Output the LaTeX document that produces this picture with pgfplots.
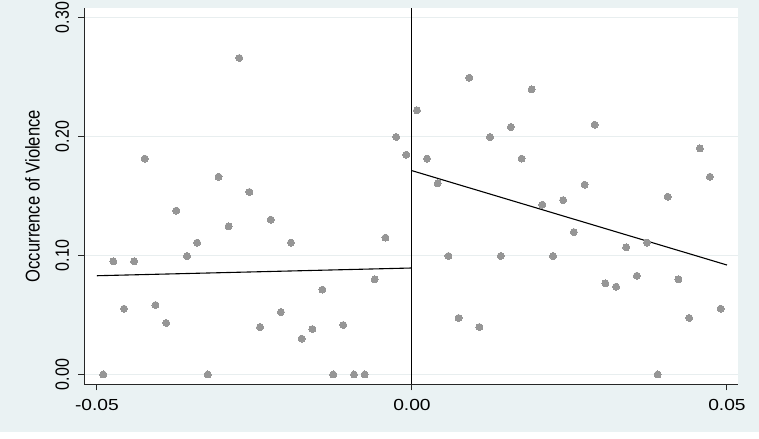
\documentclass[border=0pt]{standalone}
\usepackage{fontspec}
\setmainfont{Liberation Sans}
\usepackage{graphicx}
\usepackage{pgfplots}
\pgfplotsset{compat=1.18}
\usepackage{pgfplotstable}
\definecolor{bg}{RGB}{234,242,243}
\definecolor{gridc}{RGB}{232,238,239}
\definecolor{mk}{RGB}{150,150,150}
\newcommand{\wx}[1]{\scalebox{1.2}[1]{#1}}
\newcommand{\wy}[1]{\scalebox{1}[1.2]{#1}}
\pgfplotstableread{
x y
-0.0490 0.000
-0.0474 0.0951
-0.0457 0.0553
-0.0441 0.0951
-0.0424 0.1814
-0.0407 0.0584
-0.0390 0.0433
-0.0374 0.1377
-0.0357 0.0996
-0.0341 0.1108
-0.0324 0.000
-0.0307 0.1662
-0.0291 0.1245
-0.0274 0.2660
-0.0258 0.1534
-0.0241 0.0399
-0.0224 0.1301
-0.0208 0.0525
-0.0192 0.1108
-0.0175 0.0301
-0.0158 0.0382
-0.0142 0.0713
-0.0125 0.000
-0.0109 0.0416
-0.0092 0.000
-0.0075 0.000
-0.0059 0.0800
-0.0042 0.1150
-0.0025 0.1996
-0.0009 0.1847
}\leftdata
\pgfplotstableread{
x y
0.0008 0.2220
0.0024 0.1814
0.0041 0.1607
0.0058 0.0996
0.0074 0.0475
0.0091 0.2494
0.0107 0.0399
0.0124 0.1996
0.0141 0.0996
0.0157 0.2080
0.0174 0.1814
0.0190 0.2396
0.0207 0.1427
0.0224 0.0996
0.0240 0.1466
0.0257 0.1197
0.0274 0.1595
0.0290 0.2099
0.0307 0.0766
0.0324 0.0738
0.0340 0.1069
0.0357 0.0830
0.0373 0.1108
0.0390 0.000
0.0406 0.1494
0.0423 0.0800
0.0440 0.0475
0.0457 0.1900
0.0473 0.1662
0.0490 0.0553
}\rightdata
\begin{document}
\begin{tikzpicture}
\useasboundingbox (-84.3bp,-54.7bp) rectangle (674.7bp,384.3bp);
\fill[bg] (-84.3bp,-47.7bp) rectangle (674.7bp,384.3bp);
\begin{axis}[
  at={(0,0)}, anchor=south west,
  scale only axis, width=653.7bp, height=376.3bp,
  xmin=-0.052, xmax=0.05175, ymin=-0.00824, ymax=0.308,
  scaled x ticks=false, scaled y ticks=false,
  axis background/.style={fill=white},
  axis x line*=bottom, axis y line*=left,
  axis line style={black!85, line width=1bp, -},
  tick align=outside, major tick length=6bp,
  tick style={black!85, line width=1bp},
  xtick={-0.05,0,0.05}, xticklabels={\wx{-0.05},\wx{0.00},\wx{0.05}},
  ytick={0,0.1,0.2,0.3}, yticklabels={\wy{0.00},\wy{0.10},\wy{0.20},\wy{0.30}},
  ymajorgrids, grid style={gridc, line width=1.2bp},
  tick label style={font=\fontsize{16bp}{19bp}\selectfont},
  xticklabel style={anchor=base}, xticklabel shift=20.4bp,
  yticklabel style={rotate=90, anchor=base}, yticklabel shift=9.3bp,
  ylabel={\wy{Occurrence of Violence}},
  every axis y label/.style={at={(axis description cs:-0.0685,0.5)}, anchor=base, rotate=90, font=\fontsize{16.6bp}{20bp}\selectfont},
  clip=false,
]
\addplot[only marks, mark=*, mark size=3.5bp, mark options={fill=mk, draw=mk, line width=0pt}] table {\leftdata};
\addplot[only marks, mark=*, mark size=3.5bp, mark options={fill=mk, draw=mk, line width=0pt}] table {\rightdata};
\addplot[black, line width=1.1bp] coordinates {(0,-0.00824) (0,0.308)};
\addplot[black, line width=1.1bp] coordinates {(-0.05,0.0830) (0,0.0895)};
\addplot[black, line width=1.1bp] coordinates {(0,0.1713) (0.05,0.0920)};
\end{axis}
\end{tikzpicture}
\end{document}
